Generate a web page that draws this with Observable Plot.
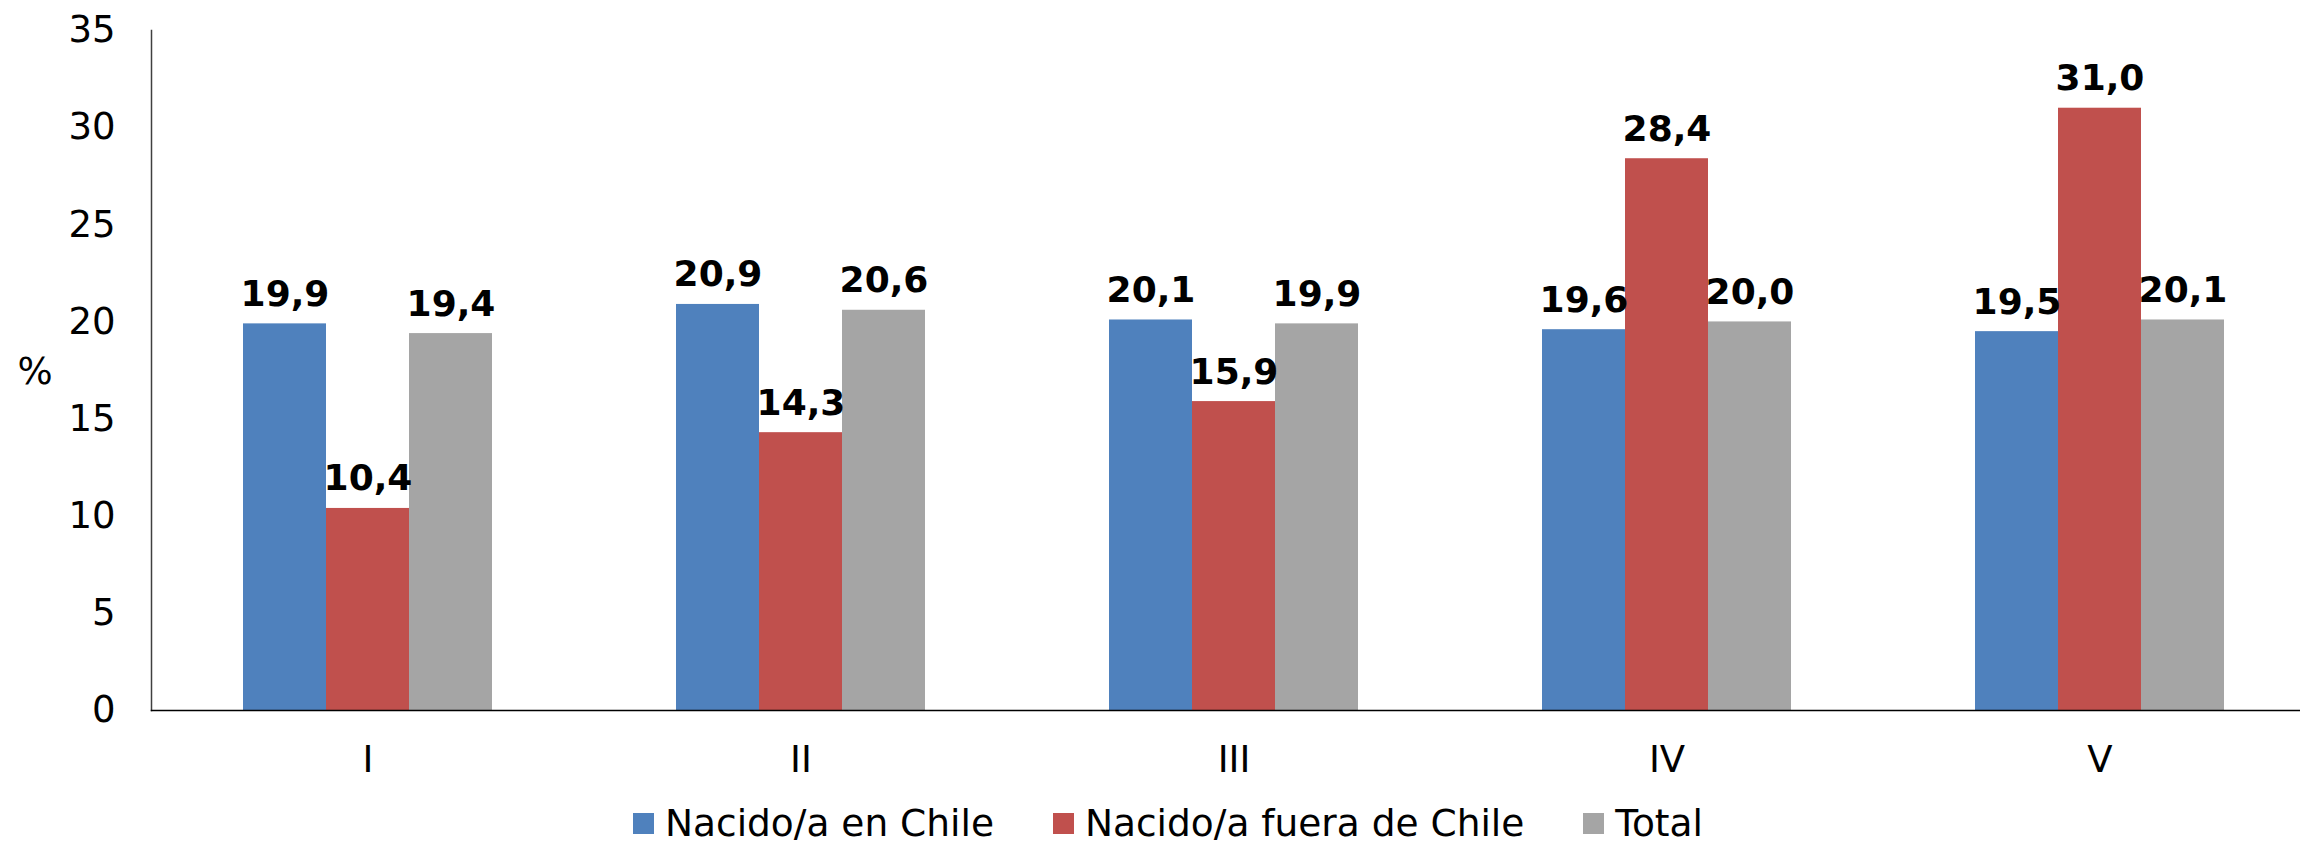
<!DOCTYPE html>
<html>
<head>
<meta charset="utf-8">
<script src="https://cdn.jsdelivr.net/npm/d3@7"></script>
<script src="https://cdn.jsdelivr.net/npm/@observablehq/plot@0.6"></script>
<style>
  html, body { margin: 0; padding: 0; background: #fff; }
  #wrap { position: relative; width: 2300px; height: 846px; overflow: hidden; font-family: "DejaVu Sans", Verdana, sans-serif; }
  #ylabel { position: absolute; left: 35px; top: 371px; transform: translate(-50%, -50%); font-size: 37px; line-height: 1; color: #000; }
  #legend { position: absolute; left: 633px; top: 806px; display: flex; align-items: center; height: 34px; line-height: 34px; font-size: 37.5px; color: #000; white-space: nowrap; }
  .item { display: flex; align-items: center; margin-right: 59px; }
  .item:last-child { margin-right: 0; }
  .sw { width: 21px; height: 21px; margin-right: 11px; }
</style>
</head>
<body>
<div id="wrap">
  <div id="chart"></div>
  <div id="ylabel">%</div>
  <div id="legend"></div>
</div>
<script>
const grupos = ["I", "II", "III", "IV", "V"];
const series = ["Nacido/a en Chile", "Nacido/a fuera de Chile", "Total"];
const nacidoChile = [19.9, 20.9, 20.1, 19.6, 19.5];
const nacidoFuera = [10.4, 14.3, 15.9, 28.4, 31.0];
const total = [19.4, 20.6, 19.9, 20.0, 20.1];
const colores = ["#4F81BD", "#C0504D", "#A5A5A5"];
const yTicks = [0, 5, 10, 15, 20, 25, 30, 35];

const valores = [nacidoChile, nacidoFuera, total];
const data = [];
grupos.forEach((g, i) => {
  series.forEach((s, j) => {
    data.push({grupo: g, serie: s, valor: valores[j][i]});
  });
});
const fmt = v => v.toFixed(1).replace(".", ",");

const chart = Plot.plot({
  width: 2300,
  height: 790,
  marginLeft: 151,
  marginRight: -16,
  marginTop: 30,
  marginBottom: 80,
  style: {fontFamily: "DejaVu Sans, Verdana, sans-serif", fontSize: "37px", color: "#000", background: "#fff"},
  fx: {domain: grupos, padding: 0, label: null},
  x: {domain: series, paddingInner: 0, paddingOuter: 1.098, axis: null},
  y: {domain: [0, 35], axis: null},
  color: {domain: series, range: colores},
  marks: [
    Plot.barY(data, {fx: "grupo", x: "serie", y: "valor", fill: "serie", inset: 0}),
    Plot.text(data, {fx: "grupo", x: "serie", y: "valor", text: d => fmt(d.valor), dy: -18, lineAnchor: "bottom", fontWeight: "bold", fontSize: 36, fill: "#000"}),
    Plot.axisY({ticks: yTicks, tickSize: 0, tickPadding: 36, fontSize: 37, label: null, tickFormat: d => String(d)}),
    Plot.axisFx({anchor: "bottom", tickSize: 0, tickPadding: 35, fontSize: 37, label: null}),
    Plot.frame({anchor: "left", facet: "super", stroke: "#404040", strokeWidth: 1.5}),
    Plot.frame({anchor: "bottom", facet: "super", stroke: "#000", strokeWidth: 1.5})
  ]
});
document.getElementById("chart").appendChild(chart);

const legend = document.getElementById("legend");
series.forEach((s, j) => {
  const it = document.createElement("div");
  it.className = "item";
  const sw = document.createElement("div");
  sw.className = "sw";
  sw.style.background = colores[j];
  const tx = document.createElement("span");
  tx.textContent = s;
  it.appendChild(sw);
  it.appendChild(tx);
  legend.appendChild(it);
});
</script>
</body>
</html>
